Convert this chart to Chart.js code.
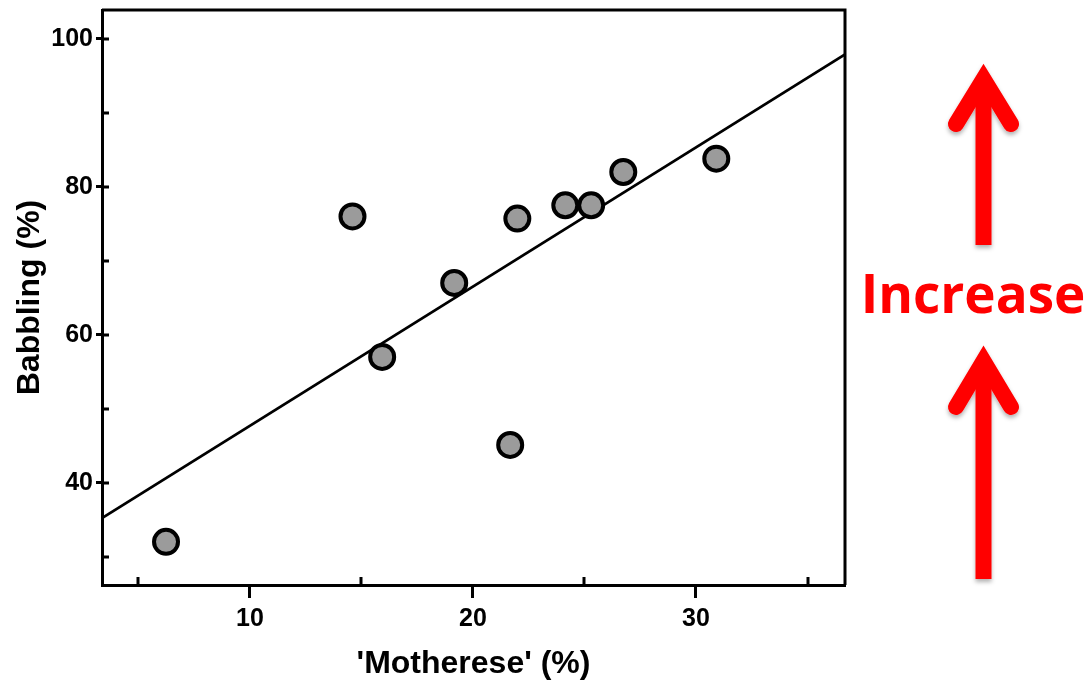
<!DOCTYPE html>
<html>
<head>
<meta charset="utf-8">
<script src="https://cdn.jsdelivr.net/npm/chart.js@4/dist/chart.umd.min.js"></script>
<style>
  html, body { margin: 0; padding: 0; background: #ffffff; }
  #wrap { position: relative; width: 1085px; height: 683px; overflow: hidden; background: #fff; }
  #c { position: absolute; left: 0; top: 0; }
  #deco { position: absolute; left: 0; top: 0; }
</style>
</head>
<body>
<div id="wrap">
  <canvas id="c" width="1085" height="683"></canvas>
  <svg id="deco" width="1085" height="683" viewBox="0 0 1085 683">
    <defs>
      <filter id="sh" x="-50%" y="-20%" width="200%" height="140%">
        <feDropShadow dx="0" dy="3" stdDeviation="2" flood-color="#000" flood-opacity="0.3"/>
      </filter>
    </defs>
    <g filter="url(#sh)" stroke="#ff0000" fill="none" stroke-width="16">
      <line x1="983.5" y1="85" x2="983.5" y2="245" stroke-linecap="butt"/>
      <polyline points="956,124 983.5,79 1011,124" stroke-linecap="round" stroke-linejoin="miter" stroke-miterlimit="10"/>
      <line x1="983.5" y1="368" x2="983.5" y2="579" stroke-linecap="butt"/>
      <polyline points="956,407 983.5,361 1011,407" stroke-linecap="round" stroke-linejoin="miter" stroke-miterlimit="10"/>
    </g>
    <text x="973" y="313" text-anchor="middle" fill="#ff0000" font-family="'Open Sans', sans-serif" font-weight="700" font-size="53">Increase</text>
  </svg>
</div>
<script>
// ---- data ----
const mothereseX = [6.24, 14.6, 15.93, 19.16, 21.67, 21.99, 24.14, 25.30, 26.74, 30.91];
const babblingY  = [32.0, 76.0, 57.0, 67.0, 45.1, 75.7, 77.5, 77.5, 82.0, 83.8];
const trendX = [3.37, 36.68];
const trendY = [35.2, 97.9];
const xTickValues = [10, 20, 30];
const xTickLabels = ['10', '20', '30'];
const xMinorTicks = [5, 15, 25, 35];
const yTickValues = [40, 60, 80, 100];
const yTickLabels = ['40', '60', '80', '100'];
const yMinorTicks = [30, 50, 70, 90];
const xRange = [3.37, 36.68];
const yRange = [26.17, 103.9];
const xTitle = "'Motherese' (%)";
const yTitle = 'Babbling (%)';

const scatterPts = mothereseX.map((x, i) => ({ x: x, y: babblingY[i] }));
const trendPts = trendX.map((x, i) => ({ x: x, y: trendY[i] }));

const frameAndInnerTicks = {
  id: 'frameAndInnerTicks',
  afterDraw(chart) {
    const ctx = chart.ctx;
    const a = chart.chartArea;
    const xs = chart.scales.x, ys = chart.scales.y;
    ctx.save();
    ctx.strokeStyle = '#000';
    ctx.lineWidth = 3;
    ctx.beginPath();
    ctx.moveTo(a.left, a.top);
    ctx.lineTo(a.right, a.top);
    ctx.lineTo(a.right, a.bottom);
    ctx.stroke();
    ctx.lineWidth = 3;
    ctx.beginPath();
    xMinorTicks.forEach(v => {
      const px = Math.round(xs.getPixelForValue(v));
      ctx.moveTo(px, a.bottom);
      ctx.lineTo(px, a.bottom - 8);
    });
    yMinorTicks.concat(yTickValues).forEach(v => {
      const py = Math.round(ys.getPixelForValue(v));
      ctx.moveTo(a.left, py);
      ctx.lineTo(a.left + 7, py);
    });
    ctx.stroke();
    ctx.restore();
  }
};

const zeroPad = s => { s.paddingTop = 0; s.paddingBottom = 0; s.paddingLeft = 0; s.paddingRight = 0; };

new Chart(document.getElementById('c'), {
  type: 'scatter',
  data: {
    datasets: [
      {
        type: 'line',
        data: trendPts,
        borderColor: '#000',
        borderWidth: 2.7,
        pointRadius: 0,
        fill: false,
        order: 2
      },
      {
        data: scatterPts,
        backgroundColor: '#9b9b9b',
        borderColor: '#000',
        borderWidth: 4,
        pointRadius: 12,
        pointHoverRadius: 12,
        order: 1
      }
    ]
  },
  options: {
    responsive: false,
    devicePixelRatio: 1,
    animation: false,
    events: [],
    layout: { autoPadding: false, padding: { left: 0, top: 10, right: 240, bottom: 0 } },
    plugins: { legend: { display: false }, tooltip: { enabled: false } },
    scales: {
      x: {
        type: 'linear',
        min: xRange[0], max: xRange[1],
        afterBuildTicks: s => { s.ticks = xTickValues.map(v => ({ value: v })); },
        afterFit: s => { s.height = 98; zeroPad(s); },
        ticks: {
          color: '#000',
          font: { family: "'Liberation Sans', Arial, sans-serif", size: 25, weight: 'bold' },
          padding: 6,
          maxRotation: 0,
          callback: (v) => { const i = xTickValues.indexOf(v); return i >= 0 ? xTickLabels[i] : ''; }
        },
        grid: { drawOnChartArea: false, drawTicks: true, tickLength: 13, tickWidth: 3, tickColor: '#000', color: '#000' },
        border: { display: true, color: '#000', width: 3 },
        title: {
          display: true, text: xTitle, color: '#000',
          font: { family: "'Liberation Sans', Arial, sans-serif", size: 32, weight: 'bold' },
          padding: { top: 0, bottom: 0 }
        }
      },
      y: {
        type: 'linear',
        min: yRange[0], max: yRange[1],
        afterBuildTicks: s => { s.ticks = yTickValues.map(v => ({ value: v })); },
        afterFit: s => { s.width = 102; zeroPad(s); },
        ticks: {
          color: '#000',
          font: { family: "'Liberation Sans', Arial, sans-serif", size: 25, weight: 'bold' },
          padding: 3,
          callback: (v) => { const i = yTickValues.indexOf(v); return i >= 0 ? yTickLabels[i] : ''; }
        },
        grid: { drawOnChartArea: false, drawTicks: true, tickLength: 6, tickWidth: 3, tickColor: '#000', color: '#000' },
        border: { display: true, color: '#000', width: 3 },
        title: {
          display: true, text: yTitle, color: '#000',
          font: { family: "'Liberation Sans', Arial, sans-serif", size: 32, weight: 'bold' },
          padding: { top: 11, bottom: 0 }
        }
      }
    }
  },
  plugins: [frameAndInnerTicks]
});
</script>
</body>
</html>
